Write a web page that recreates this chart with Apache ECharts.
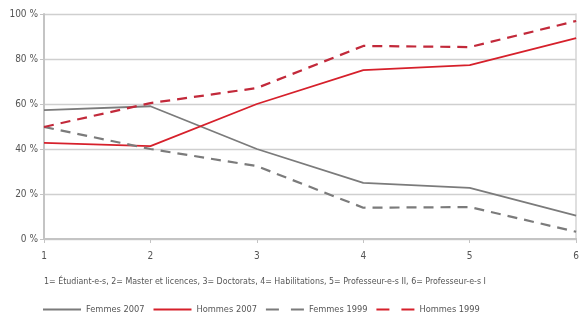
<!DOCTYPE html>
<html><head><meta charset="utf-8">
<script src="https://cdn.jsdelivr.net/npm/echarts@6/dist/echarts.min.js"></script>
<style>html,body{margin:0;padding:0;background:#fff}#c{width:582px;height:323px}</style>
</head><body><div id="c"></div>
<script>
const categories = ['1','2','3','4','5','6'];
const femmes2007 = [57.3, 59.0, 40.0, 24.9, 22.7, 10.4];
const hommes2007 = [42.7, 41.3, 60.0, 75.1, 77.3, 89.3];
const femmes1999 = [49.8, 40.0, 32.4, 13.9, 14.2, 3.2];
const hommes1999 = [49.8, 60.4, 67.1, 85.8, 85.3, 96.9];
const yTicks = [0, 20, 40, 60, 80, 100];
const note = '1= Étudiant-e-s, 2= Master et licences, 3= Doctorats, 4= Habilitations, 5= Professeur-e-s II, 6= Professeur-e-s I';

const FONT = '"Liberation Sans Narrow", "DejaVu Sans Condensed", "Roboto", sans-serif';
const GREY = '#7b7b7b', RED = '#d6202b', RED2 = '#c2293a';
const chart = echarts.init(document.getElementById('c'), null, {renderer: 'canvas'});
function ser(name, data, color, dashed) {
  return {name, type: 'line', data, symbol: 'none', showSymbol: false, smooth: false,
    lineStyle: {color, width: dashed ? 2.2 : 1.8, type: dashed ? [10, 7] : 'solid'},
    itemStyle: {color}, emphasis: {disabled: true}};
}
chart.setOption({
  animation: false,
  textStyle: {fontFamily: FONT},
  title: {text: note, left: 44, top: 277, padding: 0,
    textStyle: {fontSize: 8.8, fontWeight: 'normal', color: '#555', fontFamily: FONT}},
  legend: {bottom: 9, left: 42, itemWidth: 38, itemHeight: 10, itemGap: 8, padding: 0,
    itemStyle: {opacity: 0},
    textStyle: {fontSize: 9.2, color: '#555', fontFamily: FONT},
    data: [{name: 'Femmes 2007'}, {name: 'Hommes 2007'},
           {name: 'Femmes 1999', lineStyle: {type: [13, 12]}},
           {name: 'Hommes 1999', lineStyle: {type: [13, 12], color: RED}}]},
  grid: {left: 44, right: 4, top: 14, bottom: 84},
  xAxis: {type: 'category', data: categories, boundaryGap: false,
    axisLine: {lineStyle: {color: '#c4c4c4', width: 2}},
    axisTick: {show: true, length: 4, inside: false, lineStyle: {color: '#c4c4c4'}},
    axisLabel: {color: '#555', fontSize: 10, margin: 12, fontFamily: FONT}},
  yAxis: [{type: 'value', min: yTicks[0], max: yTicks[yTicks.length - 1], interval: 20,
    axisLine: {show: true, lineStyle: {color: '#c4c4c4', width: 2}},
    axisTick: {show: true, length: 4, lineStyle: {color: '#c4c4c4'}},
    axisLabel: {formatter: '{value} %', color: '#555', fontSize: 10, margin: 6, fontFamily: FONT},
    splitLine: {lineStyle: {color: '#cfcfcf', width: 1.3}}},
   {type: 'value', position: 'right', min: 0, max: 100, interval: 20,
    axisLine: {show: true, lineStyle: {color: '#d4d4d4', width: 1.5}},
    axisTick: {show: false}, axisLabel: {show: false}, splitLine: {show: false}}],
  series: [
    ser('Femmes 2007', femmes2007, GREY, false),
    ser('Hommes 2007', hommes2007, RED, false),
    ser('Femmes 1999', femmes1999, GREY, true),
    ser('Hommes 1999', hommes1999, RED2, true)
  ]
});
</script></body></html>
